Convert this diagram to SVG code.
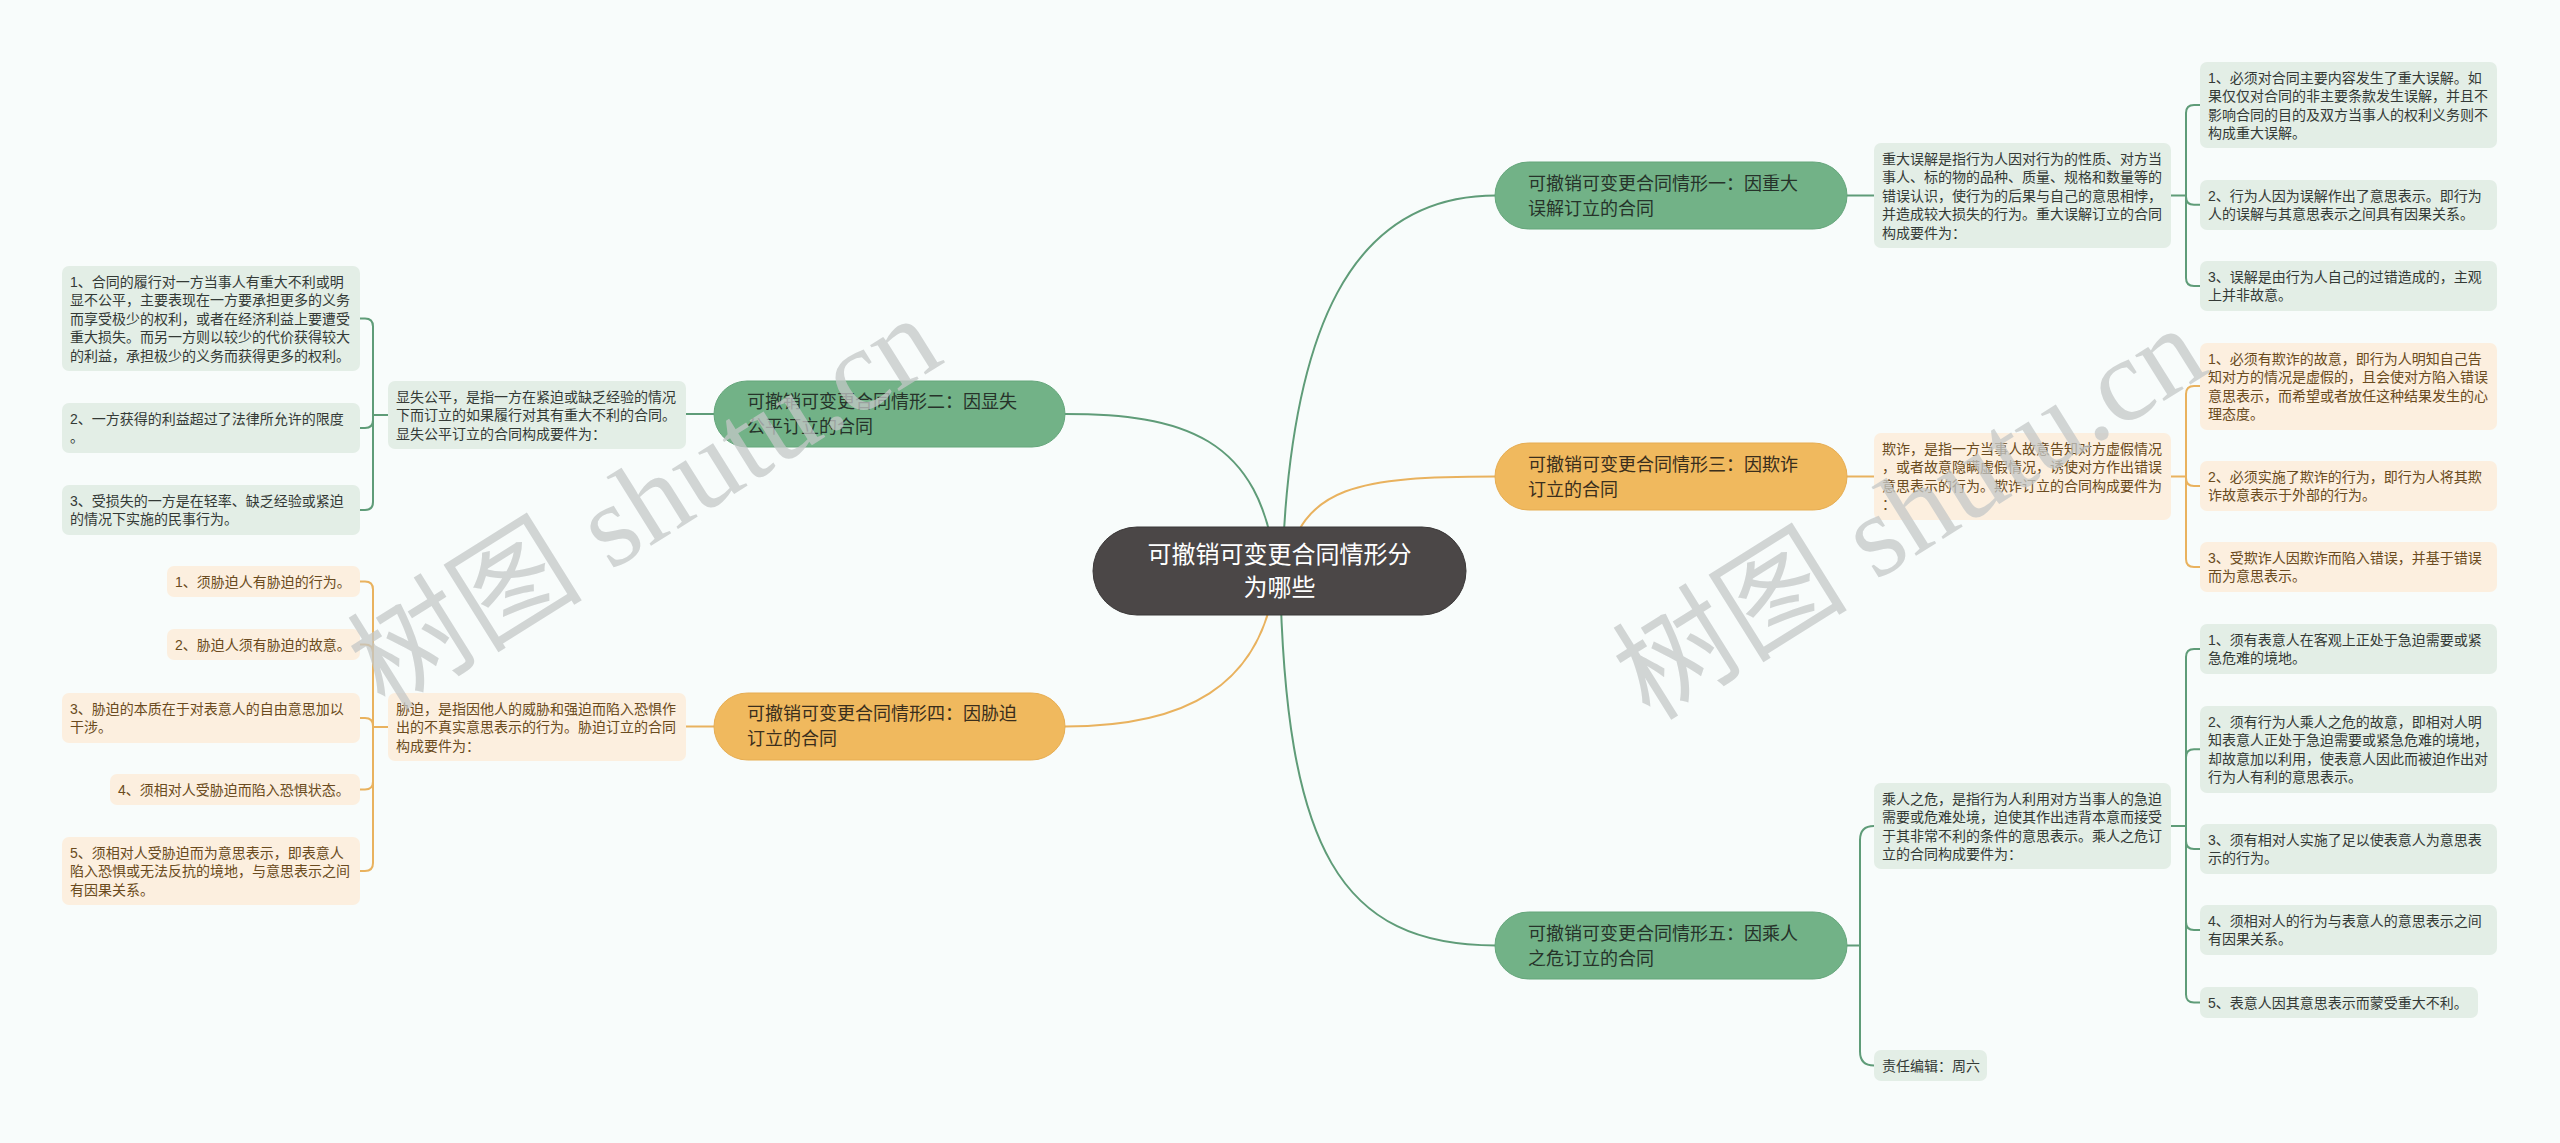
<svg xmlns="http://www.w3.org/2000/svg" width="2560" height="1143" viewBox="0 0 2560 1143">
<style>
.t{font-family:"Liberation Sans","Noto Sans CJK SC",sans-serif;font-size:14px}
.tg{fill:#343a36}
.to{fill:#6a4b20}
.bt{font-family:"Liberation Sans","Noto Sans CJK SC",sans-serif;font-size:18px}
.rt{font-family:"Liberation Sans","Noto Sans CJK SC",sans-serif;font-size:24px;fill:#ffffff}
.bg{fill:#e3eee6}
.bo{fill:#fcefdf}
.ng{fill:#72b287;stroke:#65a67b;stroke-width:1}
.no{fill:#f0b95e;stroke:#e6ad52;stroke-width:1}
.lg{fill:none;stroke:#5f9c78;stroke-width:2}
.lo{fill:none;stroke:#e9b25e;stroke-width:2}
.wm{font-family:"Liberation Serif","Noto Sans CJK SC",serif;font-size:118px;fill:#c4c8c8;opacity:0.75}
</style>
<rect x="0" y="0" width="2560" height="1143" fill="#f8fcfb"/>

<g id="connectors">
  <path class="lg" d="M 1282 571 C 1290 330, 1350 195.5, 1496 195.5"/>
  <path class="lo" d="M 1286 571 C 1300 485, 1360 476.5, 1496 476.5"/>
  <path class="lg" d="M 1280 571 C 1285 850, 1340 945.5, 1496 945.5"/>
  <path class="lg" d="M 1276 571 C 1262 435, 1180 414, 1065 414"/>
  <path class="lo" d="M 1276 571 C 1265 690, 1180 726.5, 1065 726.5"/>

  <path class="lg" d="M 1847 195.5 H 1874"/>
  <path class="lo" d="M 1847 476.5 H 1874"/>
  <path class="lg" d="M 714 414 H 686"/>
  <path class="lo" d="M 714 726.5 H 686"/>

  <path class="lg" d="M 2171 195.5 H 2186 M 2186 195.5 V 113 Q 2186 105 2194 105 H 2200 M 2186 195.5 V 196.75 Q 2186 204.75 2194 204.75 H 2200 M 2186 195.5 V 278 Q 2186 286 2194 286 H 2200"/>
  <path class="lo" d="M 2171 476.5 H 2186 M 2186 476.5 V 394 Q 2186 386 2194 386 H 2200 M 2186 476.5 V 478 Q 2186 486 2194 486 H 2200 M 2186 476.5 V 559 Q 2186 567 2194 567 H 2200"/>
  <path class="lg" d="M 2171 826 H 2186 M 2186 826 V 657 Q 2186 649 2194 649 H 2200 M 2186 826 V 757.25 Q 2186 749.25 2194 749.25 H 2200 M 2186 826 V 841 Q 2186 849 2194 849 H 2200 M 2186 826 V 922 Q 2186 930 2194 930 H 2200 M 2186 826 V 994.5 Q 2186 1002.5 2194 1002.5 H 2200"/>
  <path class="lg" d="M 1847 945.5 H 1860 M 1860 945.5 V 840 Q 1860 826 1874 826 M 1860 945.5 V 1051.5 Q 1860 1065.5 1874 1065.5"/>
  <path class="lg" d="M 388 415 H 373 M 373 415 V 326.5 Q 373 318.5 365 318.5 H 360 M 373 415 V 420 Q 373 428 365 428 H 360 M 373 415 V 502 Q 373 510 365 510 H 360"/>
  <path class="lo" d="M 388 727 H 373 M 373 727 V 589.5 Q 373 581.5 365 581.5 H 360 M 373 727 V 652.5 Q 373 644.5 365 644.5 H 360 M 373 727 V 726 Q 373 718 365 718 H 360 M 373 727 V 781.5 Q 373 789.5 365 789.5 H 360 M 373 727 V 863 Q 373 871 365 871 H 360"/>
</g>

<g id="root">
  <rect x="1093" y="527" width="373" height="88" rx="44" fill="#4b4747" stroke="#3b3838" stroke-width="1"/>
  <text class="rt" text-anchor="middle"><tspan x="1279.5" y="563">可撤销可变更合同情形分</tspan><tspan x="1279.5" y="596">为哪些</tspan></text>
</g>

<g id="branch1">
  <rect class="ng" x="1495" y="162" width="352" height="67" rx="33.5"/>
  <text class="bt" fill="#26332a"><tspan x="1528" y="189.5">可撤销可变更合同情形一：因重大</tspan><tspan x="1528" y="214.5">误解订立的合同</tspan></text>
</g>
<g id="branch3">
  <rect class="no" x="1495" y="443" width="352" height="67" rx="33.5"/>
  <text class="bt" fill="#3a2e1c"><tspan x="1528" y="470.5">可撤销可变更合同情形三：因欺诈</tspan><tspan x="1528" y="495.5">订立的合同</tspan></text>
</g>
<g id="branch5">
  <rect class="ng" x="1495" y="912" width="352" height="67" rx="33.5"/>
  <text class="bt" fill="#26332a"><tspan x="1528" y="939.5">可撤销可变更合同情形五：因乘人</tspan><tspan x="1528" y="964.5">之危订立的合同</tspan></text>
</g>
<g id="branch2">
  <rect class="ng" x="714" y="381" width="351" height="66" rx="33"/>
  <text class="bt" fill="#26332a"><tspan x="747" y="408">可撤销可变更合同情形二：因显失</tspan><tspan x="747" y="433">公平订立的合同</tspan></text>
</g>
<g id="branch4">
  <rect class="no" x="714" y="693" width="351" height="67" rx="33.5"/>
  <text class="bt" fill="#3a2e1c"><tspan x="747" y="720">可撤销可变更合同情形四：因胁迫</tspan><tspan x="747" y="745">订立的合同</tspan></text>
</g>

<g id="desc1">
  <rect class="bg" x="1874" y="143" width="297" height="105" rx="7"/>
  <text class="t tg"><tspan x="1882" y="163.5">重大误解是指行为人因对行为的性质、对方当</tspan><tspan x="1882" dy="18.5">事人、标的物的品种、质量、规格和数量等的</tspan><tspan x="1882" dy="18.5">错误认识，使行为的后果与自己的意思相悖，</tspan><tspan x="1882" dy="18.5">并造成较大损失的行为。重大误解订立的合同</tspan><tspan x="1882" dy="18.5">构成要件为：</tspan></text>
</g>
<g id="r1_1">
  <rect class="bg" x="2200" y="62" width="297" height="86" rx="7"/>
  <text class="t tg"><tspan x="2208" y="82.5">1、必须对合同主要内容发生了重大误解。如</tspan><tspan x="2208" dy="18.5">果仅仅对合同的非主要条款发生误解，并且不</tspan><tspan x="2208" dy="18.5">影响合同的目的及双方当事人的权利义务则不</tspan><tspan x="2208" dy="18.5">构成重大误解。</tspan></text>
</g>
<g id="r1_2">
  <rect class="bg" x="2200" y="180" width="297" height="50" rx="7"/>
  <text class="t tg"><tspan x="2208" y="200.5">2、行为人因为误解作出了意思表示。即行为</tspan><tspan x="2208" dy="18.5">人的误解与其意思表示之间具有因果关系。</tspan></text>
</g>
<g id="r1_3">
  <rect class="bg" x="2200" y="261" width="297" height="50" rx="7"/>
  <text class="t tg"><tspan x="2208" y="281.5">3、误解是由行为人自己的过错造成的，主观</tspan><tspan x="2208" dy="18.5">上并非故意。</tspan></text>
</g>

<g id="desc3">
  <rect class="bo" x="1874" y="433" width="297" height="87" rx="7"/>
  <text class="t to"><tspan x="1882" y="453.5">欺诈，是指一方当事人故意告知对方虚假情况</tspan><tspan x="1882" dy="18.5">，或者故意隐瞒虚假情况，诱使对方作出错误</tspan><tspan x="1882" dy="18.5">意思表示的行为。欺诈订立的合同构成要件为</tspan><tspan x="1882" dy="18.5">：</tspan></text>
</g>
<g id="r3_1">
  <rect class="bo" x="2200" y="343" width="297" height="87" rx="7"/>
  <text class="t to"><tspan x="2208" y="363.5">1、必须有欺诈的故意，即行为人明知自己告</tspan><tspan x="2208" dy="18.5">知对方的情况是虚假的，且会使对方陷入错误</tspan><tspan x="2208" dy="18.5">意思表示，而希望或者放任这种结果发生的心</tspan><tspan x="2208" dy="18.5">理态度。</tspan></text>
</g>
<g id="r3_2">
  <rect class="bo" x="2200" y="461" width="297" height="50" rx="7"/>
  <text class="t to"><tspan x="2208" y="481.5">2、必须实施了欺诈的行为，即行为人将其欺</tspan><tspan x="2208" dy="18.5">诈故意表示于外部的行为。</tspan></text>
</g>
<g id="r3_3">
  <rect class="bo" x="2200" y="542" width="297" height="50" rx="7"/>
  <text class="t to"><tspan x="2208" y="562.5">3、受欺诈人因欺诈而陷入错误，并基于错误</tspan><tspan x="2208" dy="18.5">而为意思表示。</tspan></text>
</g>

<g id="desc5">
  <rect class="bg" x="1874" y="783" width="297" height="86" rx="7"/>
  <text class="t tg"><tspan x="1882" y="803.5">乘人之危，是指行为人利用对方当事人的急迫</tspan><tspan x="1882" dy="18.5">需要或危难处境，迫使其作出违背本意而接受</tspan><tspan x="1882" dy="18.5">于其非常不利的条件的意思表示。乘人之危订</tspan><tspan x="1882" dy="18.5">立的合同构成要件为：</tspan></text>
</g>
<g id="editor">
  <rect class="bg" x="1874" y="1050" width="113" height="31" rx="7"/>
  <text class="t tg" x="1882" y="1070.5">责任编辑：周六</text>
</g>
<g id="r5_1">
  <rect class="bg" x="2200" y="624" width="297" height="50" rx="7"/>
  <text class="t tg"><tspan x="2208" y="644.5">1、须有表意人在客观上正处于急迫需要或紧</tspan><tspan x="2208" dy="18.5">急危难的境地。</tspan></text>
</g>
<g id="r5_2">
  <rect class="bg" x="2200" y="706" width="297" height="87" rx="7"/>
  <text class="t tg"><tspan x="2208" y="726.5">2、须有行为人乘人之危的故意，即相对人明</tspan><tspan x="2208" dy="18.5">知表意人正处于急迫需要或紧急危难的境地，</tspan><tspan x="2208" dy="18.5">却故意加以利用，使表意人因此而被迫作出对</tspan><tspan x="2208" dy="18.5">行为人有利的意思表示。</tspan></text>
</g>
<g id="r5_3">
  <rect class="bg" x="2200" y="824" width="297" height="50" rx="7"/>
  <text class="t tg"><tspan x="2208" y="844.5">3、须有相对人实施了足以使表意人为意思表</tspan><tspan x="2208" dy="18.5">示的行为。</tspan></text>
</g>
<g id="r5_4">
  <rect class="bg" x="2200" y="905" width="297" height="50" rx="7"/>
  <text class="t tg"><tspan x="2208" y="925.5">4、须相对人的行为与表意人的意思表示之间</tspan><tspan x="2208" dy="18.5">有因果关系。</tspan></text>
</g>
<g id="r5_5">
  <rect class="bg" x="2200" y="987" width="278" height="31" rx="7"/>
  <text class="t tg" x="2208" y="1007.5">5、表意人因其意思表示而蒙受重大不利。</text>
</g>

<g id="desc2">
  <rect class="bg" x="388" y="381" width="298" height="68" rx="7"/>
  <text class="t tg"><tspan x="396" y="401.5">显失公平，是指一方在紧迫或缺乏经验的情况</tspan><tspan x="396" dy="18.5">下而订立的如果履行对其有重大不利的合同。</tspan><tspan x="396" dy="18.5">显失公平订立的合同构成要件为：</tspan></text>
</g>
<g id="l2_1">
  <rect class="bg" x="62" y="266" width="298" height="105" rx="7"/>
  <text class="t tg"><tspan x="70" y="286.5">1、合同的履行对一方当事人有重大不利或明</tspan><tspan x="70" dy="18.5">显不公平，主要表现在一方要承担更多的义务</tspan><tspan x="70" dy="18.5">而享受极少的权利，或者在经济利益上要遭受</tspan><tspan x="70" dy="18.5">重大损失。而另一方则以较少的代价获得较大</tspan><tspan x="70" dy="18.5">的利益，承担极少的义务而获得更多的权利。</tspan></text>
</g>
<g id="l2_2">
  <rect class="bg" x="62" y="403" width="298" height="50" rx="7"/>
  <text class="t tg"><tspan x="70" y="423.5">2、一方获得的利益超过了法律所允许的限度</tspan><tspan x="70" dy="18.5">。</tspan></text>
</g>
<g id="l2_3">
  <rect class="bg" x="62" y="485" width="298" height="50" rx="7"/>
  <text class="t tg"><tspan x="70" y="505.5">3、受损失的一方是在轻率、缺乏经验或紧迫</tspan><tspan x="70" dy="18.5">的情况下实施的民事行为。</tspan></text>
</g>

<g id="desc4">
  <rect class="bo" x="388" y="693" width="298" height="68" rx="7"/>
  <text class="t to"><tspan x="396" y="713.5">胁迫，是指因他人的威胁和强迫而陷入恐惧作</tspan><tspan x="396" dy="18.5">出的不真实意思表示的行为。胁迫订立的合同</tspan><tspan x="396" dy="18.5">构成要件为：</tspan></text>
</g>
<g id="l4_1">
  <rect class="bo" x="167" y="566" width="193" height="31" rx="7"/>
  <text class="t to" x="175" y="586.5">1、须胁迫人有胁迫的行为。</text>
</g>
<g id="l4_2">
  <rect class="bo" x="167" y="629" width="193" height="31" rx="7"/>
  <text class="t to" x="175" y="649.5">2、胁迫人须有胁迫的故意。</text>
</g>
<g id="l4_3">
  <rect class="bo" x="62" y="693" width="298" height="50" rx="7"/>
  <text class="t to"><tspan x="70" y="713.5">3、胁迫的本质在于对表意人的自由意思加以</tspan><tspan x="70" dy="18.5">干涉。</tspan></text>
</g>
<g id="l4_4">
  <rect class="bo" x="110" y="774" width="250" height="31" rx="7"/>
  <text class="t to" x="118" y="794.5">4、须相对人受胁迫而陷入恐惧状态。</text>
</g>
<g id="l4_5">
  <rect class="bo" x="62" y="837" width="298" height="68" rx="7"/>
  <text class="t to"><tspan x="70" y="857.5">5、须相对人受胁迫而为意思表示，即表意人</tspan><tspan x="70" dy="18.5">陷入恐惧或无法反抗的境地，与意思表示之间</tspan><tspan x="70" dy="18.5">有因果关系。</tspan></text>
</g>

<g id="watermarks">
  <text class="wm" transform="translate(385 712) rotate(-32)">树图 shutu.cn</text>
  <text class="wm" transform="translate(1650 722) rotate(-32)">树图 shutu.cn</text>
</g>
</svg>
